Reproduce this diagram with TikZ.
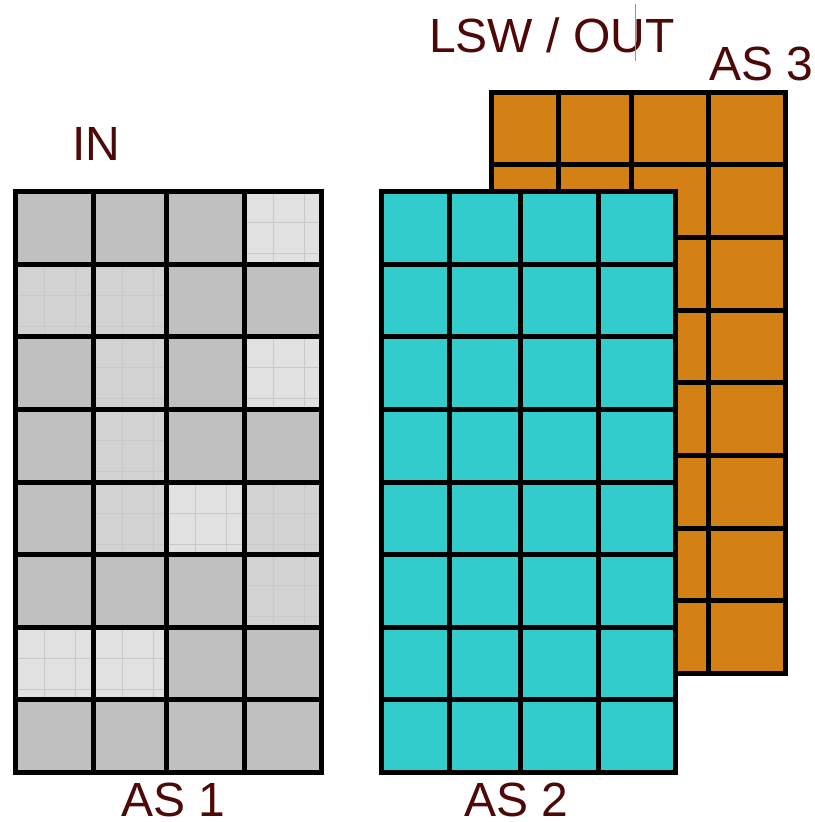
\documentclass[tikz,border=0pt]{standalone}
\usepackage{fontspec}
\setmainfont{Liberation Sans}
\definecolor{txtred}{HTML}{4D0808}
\definecolor{cellgray}{HTML}{C0C0C0}
\definecolor{celllight}{HTML}{E1E1E1}
\definecolor{cellmed}{HTML}{D2D2D2}
\definecolor{faint}{HTML}{C9C9C9}
\definecolor{cyanfill}{HTML}{33CCCC}
\definecolor{orangefill}{HTML}{D38115}
\definecolor{cursor}{HTML}{D08A30}
\tikzset{
  gridline/.style={line width=5pt, draw=black},
  lbl/.style={anchor=base west, inner sep=0pt, text=txtred, font=\fontsize{48}{54}\selectfont},
  faintline/.style={draw=faint, line width=0.8pt}
}
\begin{document}
\begin{tikzpicture}[x=1pt,y=-1pt]
\useasboundingbox (0,0) rectangle (814,822);
% ---------- AS 3 (orange, back) ----------
\fill[orangefill] (491.5,92) rectangle (785.5,673.5);
\foreach \x in {491.5,558.5,631,708.5,785.5}
  \draw[gridline] (\x,92) -- (\x,673.5);
\foreach \k in {0,...,8}
  \draw[gridline] (489,92+\k*72.69) -- (788,92+\k*72.69);
% ---------- AS 2 (cyan) ----------
\fill[cyanfill] (381,191.5) rectangle (675,772.5);
\foreach \x in {381,449,520,598,675}
  \draw[gridline] (\x,191.5) -- (\x,772.5);
\foreach \k in {0,...,8}
  \draw[gridline] (378.5,191.5+\k*72.625) -- (677.5,191.5+\k*72.625);
% ---------- AS 1 (gray) ----------
\fill[cellgray] (15,191.5) rectangle (321,772.5);
% light cells: (col,row)
\foreach \c/\r in {4/1,4/3,3/5,1/7,2/7}{
  \pgfmathsetmacro{\xa}{{15,93,166,244,321}[\c-1]}
  \pgfmathsetmacro{\xb}{{15,93,166,244,321}[\c]}
  \pgfmathsetmacro{\ya}{191.5+(\r-1)*72.625}
  \pgfmathsetmacro{\yb}{\ya+72.625}
  \fill[celllight] (\xa,\ya) rectangle (\xb,\yb);
  \draw[faintline] (\xa+29,\ya) -- (\xa+29,\yb);
  \draw[faintline] (\xa+60,\ya) -- (\xa+60,\yb);
  \draw[faintline] (\xa,\ya+31) -- (\xb,\ya+31);
  \draw[faintline] (\xa,\ya+62) -- (\xb,\ya+62);
}
% dotted medium cells
\foreach \c/\r in {1/2,2/2,2/3,2/4,2/5,4/5,4/6}{
  \pgfmathsetmacro{\xa}{{15,93,166,244,321}[\c-1]}
  \pgfmathsetmacro{\xb}{{15,93,166,244,321}[\c]}
  \pgfmathsetmacro{\ya}{191.5+(\r-1)*72.625}
  \pgfmathsetmacro{\yb}{\ya+72.625}
  \fill[cellmed] (\xa,\ya) rectangle (\xb,\yb);
  \draw[faintline] (\xa+29,\ya) -- (\xa+29,\yb);
  \draw[faintline] (\xa+60,\ya) -- (\xa+60,\yb);
  \draw[faintline] (\xa,\ya+31) -- (\xb,\ya+31);
  \draw[faintline] (\xa,\ya+62) -- (\xb,\ya+62);
}
\foreach \x in {15,93,166,244,321}
  \draw[gridline] (\x,191.5) -- (\x,772.5);
\foreach \k in {0,...,8}
  \draw[gridline] (12.5,191.5+\k*72.625) -- (323.5,191.5+\k*72.625);
% ---------- labels ----------
\node[lbl] (in)  at (72,160) {IN};
\node[lbl] (lsw) at (429,52) {LSW / OUT};
\node[lbl] (as3) at (709,80) {AS 3};
\node[lbl] (as1) at (121,816) {AS 1};
\node[lbl] (as2) at (464,816) {AS 2};
\coordinate (curtop) at (635,4);
\coordinate (curbot) at (635,61);
\draw[cursor, line width=0.8pt] (curtop) -- (curbot);
\end{tikzpicture}
\end{document}
